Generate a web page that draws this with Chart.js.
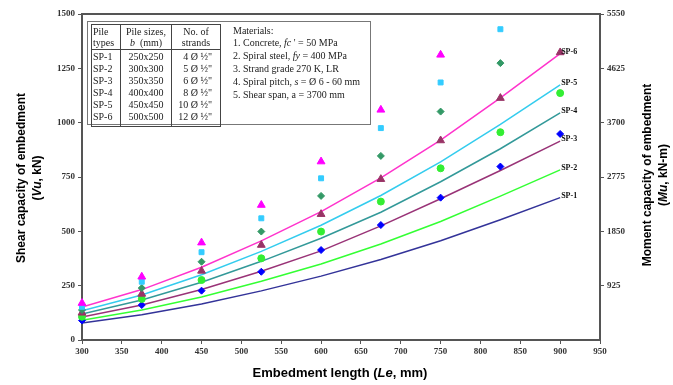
<!DOCTYPE html>
<html>
<head>
<meta charset="utf-8">
<script src="https://cdn.jsdelivr.net/npm/chart.js@4.4.0/dist/chart.umd.min.js"></script>
<style>
  html, body { margin: 0; padding: 0; background: #fff; }
  #wrap { width: 673px; height: 385px; position: relative; }
</style>
</head>
<body>
<div id="wrap"><canvas id="grafico"></canvas></div>
<script>
// Comprimentos de embutimento (mm)
const lengths = [300, 375, 450, 525, 600, 675, 750, 825, 900];
const xTicks = [300, 350, 400, 450, 500, 550, 600, 650, 700, 750, 800, 850, 900, 950];
const yTicks = [0, 250, 500, 750, 1000, 1250, 1500];
const momentTicks = [925, 1850, 2775, 3700, 4625, 5550];

// Curvas do modelo (kN)
const lineSP1 = [78, 116, 166, 226, 294, 370, 457, 553, 655];
const lineSP2 = [91, 138, 198, 270, 350, 442, 545, 662, 783];
const lineSP3 = [106, 161, 232, 316, 410, 525, 650, 780, 915];
const lineSP4 = [120, 184, 266, 362, 468, 588, 728, 880, 1045];
const lineSP5 = [135, 207, 300, 408, 528, 665, 820, 992, 1174];
const lineSP6 = [152, 232, 335, 456, 591, 746, 920, 1114, 1318];

// Pontos (kN)
const ptsSP1 = [90, 161, 227, 314, 414, 529, 655, 798, 948];
const ptsSP2 = [107, 189, 276, 376, 499, 637, 790, 956, 1136];
const ptsSP3 = [125, 212, 318, 437, 579, 740, 918, 1113, 1323];
const ptsSP4 = [138, 239, 360, 499, 663, 847, 1051, 1274, null];
const ptsSP5 = [153, 268, 404, 560, 744, 975, 1185, 1430, null];
const ptsSP6 = [170, 291, 448, 621, 821, 1059, 1312, null, null];

const lineNames = ["SP-1", "SP-2", "SP-3", "SP-4", "SP-5", "SP-6"];
const lineColors = ["#333399", "#33FF33", "#993377", "#339999", "#33CCEE", "#FF33CC"];

const toXY = (arr) => lengths.map((x, i) => ({ x: x, y: arr[i] }));

function lineSet(name, arr, color) {
  return {
    label: name, data: toXY(arr), showLine: true, borderColor: color,
    borderWidth: 1.5, pointRadius: 0, order: 2, fill: false, tension: 0
  };
}
function ptsSet(name, arr, color, style, r) {
  return {
    label: name, data: toXY(arr).filter(p => p.y !== null), showLine: false,
    pointStyle: style, pointRadius: r, backgroundColor: color, borderColor: color,
    borderWidth: 1, order: 1, clip: false
  };
}

// Texto com trechos em fontes diferentes
function drawRuns(ctx, runs, x, y, align) {
  let total = 0;
  runs.forEach(r => { ctx.font = r[1]; total += ctx.measureText(r[0]).width; });
  let cx = align === "center" ? x - total / 2 : (align === "right" ? x - total : x);
  ctx.textAlign = "left";
  runs.forEach(r => { ctx.font = r[1]; ctx.fillText(r[0], cx, y); cx += ctx.measureText(r[0]).width; });
}

const B12 = 'bold 12px "Liberation Sans"', BI12 = 'italic bold 12px "Liberation Sans"';
const B13 = 'bold 13px "Liberation Sans"', BI13 = 'italic bold 13px "Liberation Sans"';
const T10 = '10px "Liberation Serif"', TI10 = 'italic 10px "Liberation Serif"';

const decorPlugin = {
  id: "decor",
  beforeDatasetsDraw(chart) {
    const { ctx, chartArea: a } = chart;
    ctx.save();
    ctx.strokeStyle = "#555";
    ctx.lineWidth = 2;
    ctx.strokeRect(a.left, a.top, a.right - a.left, a.bottom - a.top);
    ctx.restore();
  },
  afterDraw(chart) {
    const { ctx } = chart;
    const xs = chart.scales.x, ys = chart.scales.y;
    const ends = [lineSP1, lineSP2, lineSP3, lineSP4, lineSP5, lineSP6].map(a => a[a.length - 1]);
    ctx.save();
    ctx.fillStyle = "#111";
    ctx.textBaseline = "middle";
    ctx.font = 'bold 8px "Liberation Serif"';
    ends.forEach((v, i) => {
      ctx.fillText(lineNames[i], xs.getPixelForValue(900) + 1, ys.getPixelForValue(v) - 2);
    });

    // Títulos dos eixos
    ctx.fillStyle = "#000";
    drawRuns(ctx, [["Embedment length (", B13], ["Le", BI13], [", mm)", B13]], 340, 373, "center");
    ctx.save();
    ctx.translate(22, 178); ctx.rotate(-Math.PI / 2);
    drawRuns(ctx, [["Shear capacity of embedment", B12]], 0, 0, "center");
    drawRuns(ctx, [["(", B12], ["Vu", BI12], [", kN)", B12]], 0, 16, "center");
    ctx.restore();
    ctx.save();
    ctx.translate(648, 175); ctx.rotate(-Math.PI / 2);
    drawRuns(ctx, [["Moment capacity of embedment", B12]], 0, 0, "center");
    drawRuns(ctx, [["(", B12], ["Mu", BI12], [", kN-m)", B12]], 0, 16, "center");
    ctx.restore();

    // Quadro com a tabela das estacas
    ctx.fillStyle = "#fff";
    ctx.fillRect(87, 21, 284, 106);
    ctx.strokeStyle = "#777";
    ctx.lineWidth = 1;
    ctx.strokeRect(87.5, 21.5, 283, 103);
    ctx.strokeStyle = "#444";
    ctx.strokeRect(91.5, 24.5, 129, 102);
    [120.5, 171.5].forEach(x => { ctx.beginPath(); ctx.moveTo(x, 24.5); ctx.lineTo(x, 126.5); ctx.stroke(); });
    ctx.beginPath(); ctx.moveTo(91.5, 49.5); ctx.lineTo(220.5, 49.5); ctx.stroke();

    ctx.fillStyle = "#222";
    ctx.textBaseline = "middle";
    drawRuns(ctx, [["Pile", T10]], 93, 32, "left");
    drawRuns(ctx, [["types", T10]], 93, 43, "left");
    drawRuns(ctx, [["Pile sizes,", T10]], 146, 32, "center");
    drawRuns(ctx, [["b", TI10], ["  (mm)", T10]], 146, 43, "center");
    drawRuns(ctx, [["No. of", T10]], 196, 32, "center");
    drawRuns(ctx, [["strands", T10]], 196, 43, "center");
    const sizes = ["250x250", "300x300", "350x350", "400x400", "450x450", "500x500"];
    const strands = ["4 Ø ½\"", "5 Ø ½\"", "6 Ø ½\"", "8 Ø ½\"", "10 Ø ½\"", "12 Ø ½\""];
    lineNames.forEach((n, i) => {
      const y = 57 + i * 12;
      drawRuns(ctx, [[n, T10]], 93, y, "left");
      drawRuns(ctx, [[sizes[i], T10]], 146, y, "center");
      drawRuns(ctx, [[strands[i], T10]], 212, y, "right");
    });
    drawRuns(ctx, [["Materials:", T10]], 233, 31, "left");
    drawRuns(ctx, [["1. Concrete, ", T10], ["fc", TI10], [" ' = 50 MPa", T10]], 233, 43, "left");
    drawRuns(ctx, [["2. Spiral steel, ", T10], ["fy", TI10], [" = 400 MPa", T10]], 233, 56, "left");
    drawRuns(ctx, [["3. Strand grade 270 K, LR", T10]], 233, 69, "left");
    drawRuns(ctx, [["4. Spiral pitch, ", T10], ["s", TI10], [" = Ø 6 - 60 mm", T10]], 233, 82, "left");
    drawRuns(ctx, [["5. Shear span, a = 3700 mm", T10]], 233, 95, "left");
    ctx.restore();
  }
};

const tickFont = { family: '"Liberation Serif"', size: 9, weight: "bold" };
const plain = (v) => String(v);

document.addEventListener("DOMContentLoaded", function () {
  const ctx = document.getElementById("grafico").getContext("2d");
  new Chart(ctx, {
    type: "scatter",
    data: {
      datasets: [
        ptsSet("SP-6 pts", ptsSP6, "#FF00FF", "triangle", 4.5),
        ptsSet("SP-5 pts", ptsSP5, "#33CCFF", "rect", 3.5),
        ptsSet("SP-4 pts", ptsSP4, "#339966", "rectRot", 3.5),
        ptsSet("SP-3 pts", ptsSP3, "#993366", "triangle", 4.5),
        ptsSet("SP-2 pts", ptsSP2, "#33EE33", "circle", 3.5),
        ptsSet("SP-1 pts", ptsSP1, "#0000FF", "rectRot", 3.5),
        lineSet("SP-1", lineSP1, lineColors[0]),
        lineSet("SP-2", lineSP2, lineColors[1]),
        lineSet("SP-3", lineSP3, lineColors[2]),
        lineSet("SP-4", lineSP4, lineColors[3]),
        lineSet("SP-5", lineSP5, lineColors[4]),
        lineSet("SP-6", lineSP6, lineColors[5])
      ]
    },
    options: {
      responsive: true,
      maintainAspectRatio: false,
      animation: false,
      devicePixelRatio: 1,
      layout: { padding: { top: 14, left: 0, right: 0, bottom: 0 } },
      plugins: { legend: { display: false }, tooltip: { enabled: false } },
      scales: {
        x: {
          type: "linear", min: 300, max: 950,
          afterBuildTicks: (s) => { s.ticks = xTicks.map(v => ({ value: v })); },
          afterFit: (s) => { s.height = 45; },
          ticks: { font: tickFont, color: "#333", padding: 2, maxRotation: 0, callback: plain },
          grid: { drawOnChartArea: false, tickLength: 4, color: "#555" },
          border: { color: "#555", width: 2 }
        },
        y: {
          position: "left", min: 0, max: 1500,
          afterBuildTicks: (s) => { s.ticks = yTicks.map(v => ({ value: v })); },
          afterFit: (s) => { s.width = 82; },
          ticks: { font: tickFont, color: "#333", padding: 3, callback: plain },
          grid: { drawOnChartArea: false, tickLength: 4, color: "#555" },
          border: { color: "#555", width: 2 }
        },
        y2: {
          position: "right", min: 0, max: 5550,
          afterBuildTicks: (s) => { s.ticks = momentTicks.map(v => ({ value: v })); },
          afterFit: (s) => { s.width = 73; },
          ticks: { font: tickFont, color: "#333", padding: 3, callback: plain },
          grid: { drawOnChartArea: false, tickLength: 4, color: "#555" },
          border: { color: "#555", width: 2 }
        }
      }
    },
    plugins: [decorPlugin]
  });
});
</script>
</body>
</html>
